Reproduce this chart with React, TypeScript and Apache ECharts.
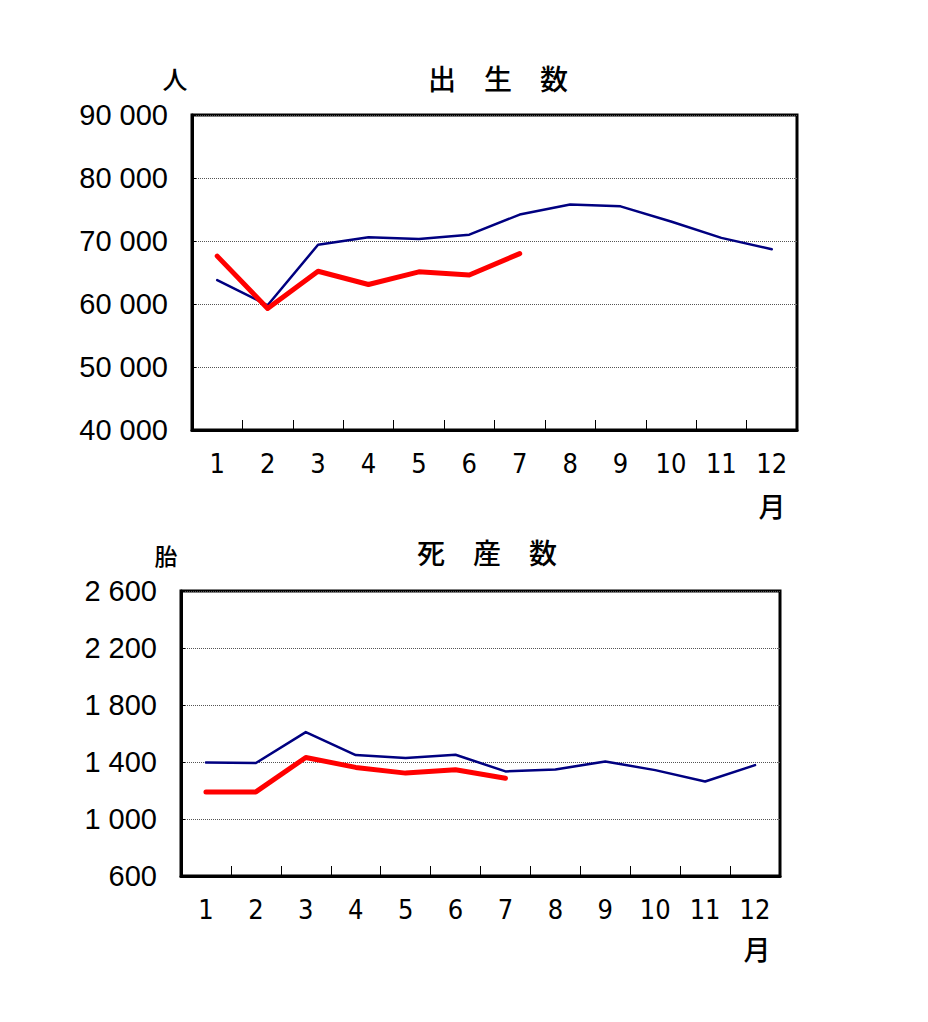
import { useEffect, useRef } from "react";
import * as echarts from "echarts";

const months = ["1", "2", "3", "4", "5", "6", "7", "8", "9", "10", "11", "12"];

// 出生数 (人)
const birthsPrevYear = [63800, 59800, 69400, 70600, 70300, 71000, 74200, 75800, 75500, 73100, 70500, 68700];
const birthsThisYear = [67600, 59300, 65200, 63100, 65100, 64600, 68000];
const birthsAxis = { min: 40000, max: 90000, interval: 10000 };

// 死産数 (胎)
const stillPrevYear = [1397, 1393, 1610, 1449, 1428, 1451, 1334, 1348, 1404, 1343, 1263, 1378];
const stillThisYear = [1190, 1190, 1432, 1362, 1322, 1345, 1286];
const stillAxis = { min: 600, max: 2600, interval: 400 };

const titles = ["出　生　数", "死　産　数"];
const units = ["人", "胎"];

const NAVY = "#000080";
const RED = "#ff0000";
const LABEL_FONT = "'Liberation Sans', Arial, sans-serif";
const NARROW_FONT = "'Liberation Sans Narrow', 'DejaVu Sans Condensed', sans-serif";
const CJK_FONT = "'Noto Sans CJK JP', sans-serif";

function spaced(v: number) {
  return String(v).replace(/\B(?=(\d{3})+(?!\d))/g, " ");
}

function buildXAxis(gridIndex: number) {
  return {
    type: "category" as const,
    gridIndex,
    data: months,
    boundaryGap: true,
    axisLine: { show: true, lineStyle: { color: "#000", width: 3 } },
    axisTick: { show: true, inside: true, length: 10, interval: 0, lineStyle: { color: "#000", width: 1 } },
    axisLabel: { interval: 0, margin: 20, color: "#000", fontSize: 27, fontFamily: NARROW_FONT },
    splitLine: { show: false },
  };
}

function buildYAxis(gridIndex: number, range: { min: number; max: number; interval: number }) {
  return {
    type: "value" as const,
    gridIndex,
    min: range.min,
    max: range.max,
    interval: range.interval,
    axisLine: { show: true, lineStyle: { color: "#000", width: 3 } },
    axisTick: { show: true, inside: true, length: 4, lineStyle: { color: "#000", width: 1 } },
    axisLabel: { margin: 24, color: "#000", fontSize: 29, fontFamily: LABEL_FONT, formatter: spaced },
    splitLine: { show: true, lineStyle: { color: "#555", width: 1, type: "dotted" as const } },
  };
}

function buildLine(name: string, data: number[], axisIndex: number, color: string, width: number) {
  return {
    name,
    type: "line" as const,
    xAxisIndex: axisIndex,
    yAxisIndex: axisIndex,
    data,
    showSymbol: false,
    symbol: "none",
    lineStyle: { color, width, cap: "round" as const, join: "round" as const },
    z: color === RED ? 3 : 2,
  };
}

function textEl(text: string, x: number, y: number, size: number, weight = 500) {
  return {
    type: "text" as const,
    x,
    y,
    style: {
      text,
      fill: "#000",
      font: `${weight} ${size}px ${CJK_FONT}`,
      textAlign: "center" as const,
      textVerticalAlign: "middle" as const,
    },
  };
}

export default function App() {
  const chartRef = useRef<HTMLDivElement | null>(null);

  useEffect(() => {
    const el = chartRef.current;
    if (!el) {
      return undefined;
    }

    const chart = echarts.init(el, undefined, { renderer: "svg" });

    chart.setOption({
      animation: false,
      backgroundColor: "#fff",
      grid: [
        { left: 192, top: 115, width: 605, height: 315, show: true, borderColor: "#000", borderWidth: 3, backgroundColor: "transparent" },
        { left: 181, top: 591, width: 599, height: 285, show: true, borderColor: "#000", borderWidth: 3, backgroundColor: "transparent" },
      ],
      xAxis: [buildXAxis(0), buildXAxis(1)],
      yAxis: [buildYAxis(0, birthsAxis), buildYAxis(1, stillAxis)],
      series: [
        buildLine("出生数 前年", birthsPrevYear, 0, NAVY, 2.5),
        buildLine("出生数 本年", birthsThisYear, 0, RED, 5),
        buildLine("死産数 前年", stillPrevYear, 1, NAVY, 2.5),
        buildLine("死産数 本年", stillThisYear, 1, RED, 5),
      ],
      graphic: [
        textEl(titles[0], 498, 78, 28),
        textEl(units[0], 175, 78, 25),
        textEl("月", 772, 505, 27),
        textEl(titles[1], 487, 552, 28),
        textEl(units[1], 166, 555, 23),
        textEl("月", 757, 948, 27),
      ],
    });

    return () => {
      chart.dispose();
    };
  }, []);

  return (
    <div
      ref={chartRef}
      style={{ position: "absolute", left: 0, top: 0, width: 928, height: 1022 }}
    />
  );
}
